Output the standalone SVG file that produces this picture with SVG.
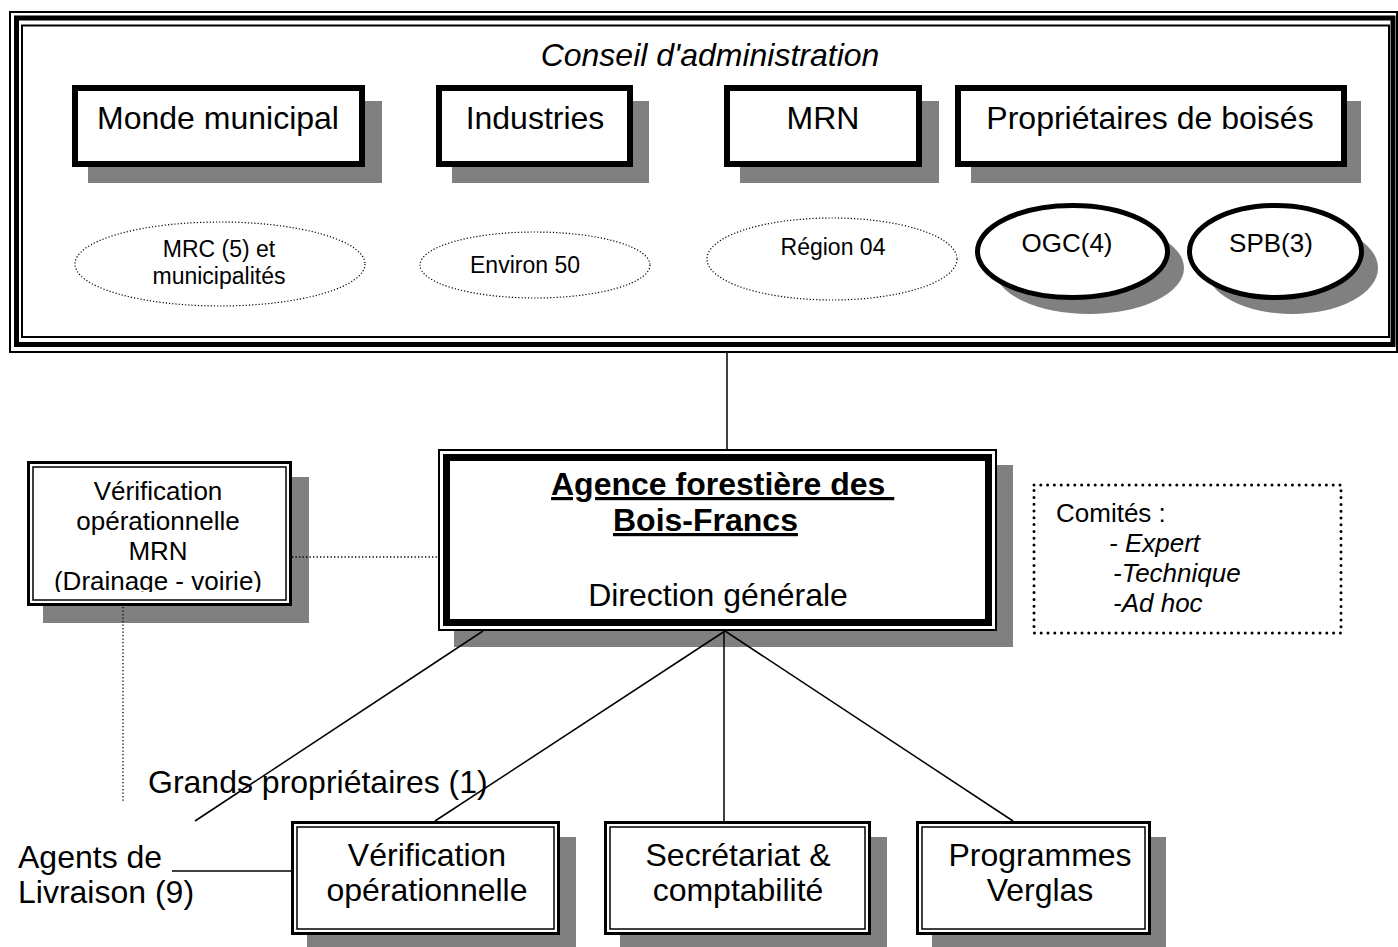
<svg xmlns="http://www.w3.org/2000/svg" width="1398" height="947" viewBox="0 0 1398 947">
<style>
text{font-family:"Liberation Sans",Arial,sans-serif;fill:#000}
.big{font-size:32px}
.mid{font-size:26px}
.sm{font-size:23px}
.c{text-anchor:middle}
.it{font-style:italic}
.shadow{fill:#808080;stroke:none}
.box{fill:#fff;stroke:#000;stroke-width:6}
.dbl1{fill:#fff;stroke:#000;stroke-width:3}
.dbl2{fill:none;stroke:#000;stroke-width:1.5}
.dotell{fill:#fff;stroke:#000;stroke-width:1.2;stroke-dasharray:1.2 2}
.ell{fill:#fff;stroke:#000;stroke-width:5}
.ln{stroke:#000;stroke-width:1.5;fill:none}
.dot{stroke:#000;stroke-width:1.3;stroke-dasharray:1.3 2.2;fill:none}
</style>
<defs>
<clipPath id="clipL"><rect x="30" y="465" width="258" height="127"/></clipPath>
</defs>

<g id="conseil">
<rect x="10" y="12" width="1387" height="340" fill="#fff" stroke="#000" stroke-width="2"/>
<rect x="16.5" y="18" width="1376.5" height="326.5" fill="none" stroke="#000" stroke-width="5"/>
<rect x="22" y="25.5" width="1367" height="311.5" fill="none" stroke="#000" stroke-width="2"/>
<text x="710" y="66" class="big c it">Conseil d'administration</text>
</g>

<g id="monde-municipal">
<rect x="88" y="101" width="294" height="82" class="shadow"/>
<rect x="75" y="88" width="287" height="76" class="box"/>
<text x="218" y="129" class="big c">Monde municipal</text>
</g>
<g id="industries">
<rect x="452" y="101" width="197" height="82" class="shadow"/>
<rect x="439" y="88" width="191" height="76" class="box"/>
<text x="535" y="129" class="big c">Industries</text>
</g>
<g id="mrn">
<rect x="740" y="101" width="199" height="82" class="shadow"/>
<rect x="727" y="88" width="192" height="76" class="box"/>
<text x="823" y="129" class="big c">MRN</text>
</g>
<g id="proprietaires">
<rect x="971" y="101" width="390" height="82" class="shadow"/>
<rect x="958" y="88" width="386" height="76" class="box"/>
<text x="1150" y="129" class="big c">Propriétaires de boisés</text>
</g>

<g id="mrc">
<ellipse cx="220" cy="264" rx="145" ry="42" class="dotell"/>
<text x="219" y="257" class="sm c">MRC (5) et</text>
<text x="219" y="284" class="sm c">municipalités</text>
</g>
<g id="environ">
<ellipse cx="535" cy="265" rx="115" ry="33" class="dotell"/>
<text x="525" y="273" class="sm c">Environ 50</text>
</g>
<g id="region">
<ellipse cx="832" cy="259" rx="125" ry="41" class="dotell"/>
<text x="833" y="255" class="sm c">Région 04</text>
</g>
<g id="ogc">
<ellipse cx="1089" cy="268" rx="95" ry="46" class="shadow"/>
<ellipse cx="1072.5" cy="251.5" rx="95" ry="46" class="ell"/>
<text x="1067" y="252" class="mid c">OGC(4)</text>
</g>
<g id="spb">
<ellipse cx="1292" cy="268" rx="86" ry="46" class="shadow"/>
<ellipse cx="1275.5" cy="251.5" rx="86" ry="46" class="ell"/>
<text x="1271" y="252" class="mid c">SPB(3)</text>
</g>

<g id="agence">
<rect x="454" y="465" width="559" height="182" class="shadow"/>
<rect x="439" y="450" width="557" height="180" fill="#fff" stroke="#000" stroke-width="2"/>
<rect x="446.5" y="457.5" width="542" height="165" fill="none" stroke="#000" stroke-width="7"/>
<text x="551" y="495" class="big" font-weight="bold" text-decoration="underline">Agence forestière des&#160;</text>
<text x="613" y="531" class="big" font-weight="bold" text-decoration="underline">Bois-Francs</text>
<text x="718" y="606" class="big c">Direction générale</text>
</g>

<g id="verif-mrn">
<rect x="43" y="477" width="266" height="146" class="shadow"/>
<rect x="28.5" y="462.5" width="262" height="142" class="dbl1"/>
<rect x="33" y="467" width="253" height="133" class="dbl2"/>
<g clip-path="url(#clipL)">
<text x="158" y="500" class="mid c">Vérification</text>
<text x="158" y="530" class="mid c">opérationnelle</text>
<text x="158" y="560" class="mid c">MRN</text>
<text x="158" y="590" class="mid c">(Drainage - voirie)</text>
</g>
</g>

<g id="comites">
<rect x="1034" y="485" width="307" height="148" fill="none" stroke="#000" stroke-width="3" stroke-dasharray="0 6.8" stroke-linecap="round"/>
<text x="1056" y="522" class="mid">Comités :</text>
<text x="1109" y="552" class="mid it">- Expert</text>
<text x="1113" y="582" class="mid it">-Technique</text>
<text x="1113" y="612" class="mid it">-Ad hoc</text>
</g>

<g id="grands">
<text x="148" y="793" class="big">Grands propriétaires (1)</text>
</g>
<g id="agents">
<text x="18" y="868" class="big">Agents de</text>
<text x="18" y="903" class="big">Livraison (9)</text>
</g>

<g id="verif-op">
<rect x="307" y="837" width="269" height="112" class="shadow"/>
<rect x="292.5" y="822.5" width="266" height="111" class="dbl1"/>
<rect x="297" y="827" width="257" height="102" class="dbl2"/>
<text x="427" y="866" class="big c">Vérification</text>
<text x="427" y="901" class="big c">opérationnelle</text>
</g>
<g id="secretariat">
<rect x="620" y="837" width="267" height="112" class="shadow"/>
<rect x="605.5" y="822.5" width="264" height="111" class="dbl1"/>
<rect x="610" y="827" width="255" height="102" class="dbl2"/>
<text x="738" y="866" class="big c">Secrétariat &amp;</text>
<text x="738" y="901" class="big c">comptabilité</text>
</g>
<g id="programmes">
<rect x="932" y="837" width="234" height="112" class="shadow"/>
<rect x="917.5" y="822.5" width="232" height="111" class="dbl1"/>
<rect x="922" y="827" width="223" height="102" class="dbl2"/>
<text x="1040" y="866" class="big c">Programmes</text>
<text x="1040" y="901" class="big c">Verglas</text>
</g>

<g id="connectors">
<line x1="727" y1="352" x2="727" y2="449" class="ln"/>
<line x1="292" y1="557" x2="438" y2="557" class="dot"/>
<line x1="123" y1="607" x2="123" y2="803" class="dot"/>
<line x1="483" y1="631" x2="195" y2="821" class="ln"/>
<line x1="725" y1="631" x2="435" y2="821" class="ln"/>
<line x1="724" y1="631" x2="724" y2="821" class="ln"/>
<line x1="725" y1="631" x2="1013" y2="821" class="ln"/>
<line x1="172" y1="871" x2="291" y2="871" class="ln"/>
</g>
</svg>
